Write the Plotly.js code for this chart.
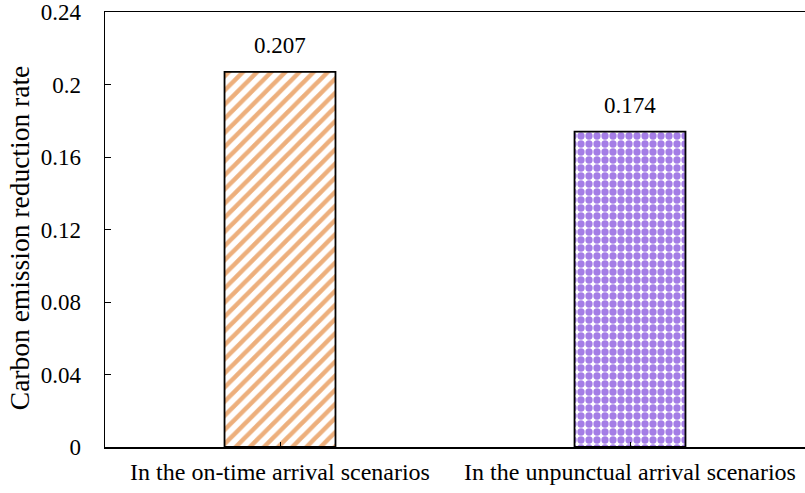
<!DOCTYPE html>
<html>
<head>
<meta charset="utf-8">
<script src="https://cdn.plot.ly/plotly-3.0.1.min.js"></script>
<style>html,body{margin:0;padding:0;background:#fff;}#chart{width:805px;height:493px;}</style>
</head>
<body>
<div id="chart"></div>
<script>
const categories = ["In the on-time arrival scenarios", "In the unpunctual arrival scenarios"];
const values = [0.207, 0.174];
const valueLabels = ["0.207", "0.174"];
const yTicks = [0, 0.04, 0.08, 0.12, 0.16, 0.2, 0.24];
const yTitle = "Carbon emission reduction rate";

const fam = "Liberation Serif, Times New Roman, serif";
const font = {family: fam, size: 23, color: "#000"};

const traces = [
  {
    type: "bar", x: [categories[0]], y: [values[0]], width: 0.317,
    marker: {color: "#ffffff", line: {color: "#000", width: 1.8},
      pattern: {shape: "/", fgcolor: "#EDAF7C", bgcolor: "#ffffff", size: 10, solidity: 0.45, fillmode: "replace"}},
    hoverinfo: "none", showlegend: false
  },
  {
    type: "bar", x: [categories[1]], y: [values[1]], width: 0.317,
    marker: {color: "#ffffff", line: {color: "#000", width: 1.8},
      pattern: {shape: ".", fgcolor: "#A47DE6", bgcolor: "#ffffff", size: 8, solidity: 0.65, fillmode: "replace"}},
    hoverinfo: "none", showlegend: false
  }
];

const annotations = categories.map((c, i) => ({
  x: c, y: values[i], xref: "x", yref: "y", text: valueLabels[i],
  showarrow: false, yanchor: "bottom", yshift: 12, font: font
}));
annotations.push({
  text: yTitle, xref: "paper", yref: "paper", x: 0, xshift: -86, y: 0.48,
  textangle: -90, showarrow: false, xanchor: "center", yanchor: "middle",
  font: {family: fam, size: 27.5, color: "#000"}
});

const layout = {
  width: 805, height: 493,
  margin: {l: 105, r: 0, t: 12, b: 46},
  paper_bgcolor: "#fff", plot_bgcolor: "#fff",
  font: font,
  barmode: "overlay",
  annotations: annotations,
  xaxis: {
    type: "category", categoryarray: categories, showline: true, linecolor: "#000", linewidth: 1.5,
    mirror: true, ticks: "inside", ticklen: 5, tickcolor: "#000", showgrid: false,
    tickfont: {family: fam, size: 24, color: "#000"}, automargin: false, ticklabelstandoff: 3
  },
  yaxis: {
    range: [0, 0.24], tickvals: yTicks, ticktext: yTicks.map(v => String(v)),
    showline: true, linecolor: "#000", linewidth: 1.5, ticks: "inside", ticklen: 6, tickcolor: "#000",
    showgrid: false, zeroline: false, tickfont: font, automargin: false, ticklabelstandoff: 18
  }
};

Plotly.newPlot("chart", traces, layout, {displayModeBar: false, staticPlot: true});
</script>
</body>
</html>
